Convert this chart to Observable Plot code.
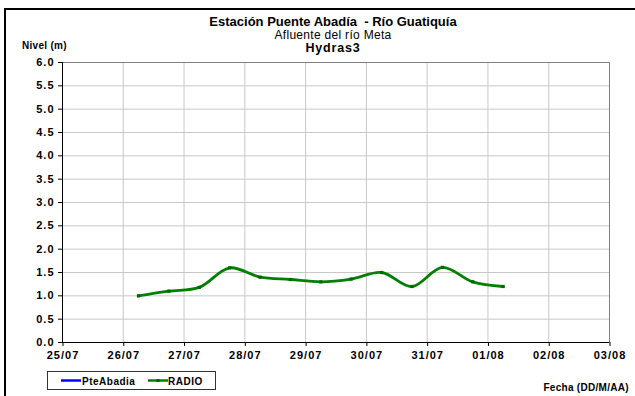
<!DOCTYPE html>
<html><head><meta charset="utf-8">
<script src="https://cdn.jsdelivr.net/npm/d3@7"></script>
<script src="https://cdn.jsdelivr.net/npm/@observablehq/plot@0.6"></script>
<style>
body{margin:0;background:#fff;font-family:"Liberation Sans",Arial,sans-serif;}
#wrap{position:relative;width:635px;height:396px;overflow:hidden;background:#fff}
#wrap svg{position:absolute;left:0;top:0}
.t{position:absolute;white-space:nowrap;color:#000;line-height:1}
.b{font-weight:bold}
</style></head><body>
<div id="wrap">
  <div class="t b" style="left:0;width:666px;text-align:center;top:15px;font-size:13px">Estación Puente Abadía&nbsp; - Río Guatiquía</div>
  <div class="t" style="left:0;width:666px;text-align:center;top:29px;font-size:12px;letter-spacing:0.3px">Afluente del río Meta</div>
  <div class="t b" style="left:0;width:666px;text-align:center;top:42px;font-size:12.5px;letter-spacing:0.8px">Hydras3</div>
  <div class="t b" style="left:22px;top:41px;font-size:10px;letter-spacing:0.3px">Nivel (m)</div>
  <div class="t b" style="right:6px;top:383px;font-size:10px;letter-spacing:0.3px">Fecha (DD/M/AA)</div>
  <div id="legend" style="position:absolute;left:47px;top:371px;width:167px;height:17px;border:1px solid #333;background:#fff"></div>
  <div style="position:absolute;left:4px;top:8px;width:631px;height:2px;background:#000"></div>
  <div style="position:absolute;left:4px;top:8px;width:2px;height:388px;background:#000"></div>
</div>
<script>
// Series: RADIO level readings (m), every 12 h
const times = [
  "2014-07-26T06:00Z","2014-07-26T18:00Z","2014-07-27T06:00Z","2014-07-27T18:00Z",
  "2014-07-28T06:00Z","2014-07-28T18:00Z","2014-07-29T06:00Z","2014-07-29T18:00Z",
  "2014-07-30T06:00Z","2014-07-30T18:00Z","2014-07-31T06:00Z","2014-07-31T18:00Z",
  "2014-08-01T06:00Z"
];
const radio = [1.0, 1.1, 1.18, 1.6, 1.4, 1.35, 1.3, 1.36, 1.5, 1.2, 1.61, 1.3, 1.2];
const pteAbadia = []; // no values shown
const tickDays = ["2014-07-25","2014-07-26","2014-07-27","2014-07-28","2014-07-29",
                  "2014-07-30","2014-07-31","2014-08-01","2014-08-02","2014-08-03"];
const yTicks = [0,0.5,1,1.5,2,2.5,3,3.5,4,4.5,5,5.5,6];
const seriesNames = ["PteAbadia","RADIO"];
const seriesColors = ["#0000ff","#008000"];

const data = times.map((t,i)=>({date:new Date(t), value:radio[i]}));
const days = tickDays.map(d=>new Date(d+"T00:00Z"));

const chart = Plot.plot({
  width:635, height:396,
  marginLeft:62, marginRight:26, marginTop:62, marginBottom:54,
  style:{fontFamily:"Liberation Sans, Arial, sans-serif", fontSize:"11px", fontWeight:"bold", letterSpacing:"1px", color:"#000", background:"transparent", overflow:"visible"},
  x:{type:"utc", domain:[days[0], days[days.length-1]]},
  y:{domain:[0,6]},
  marks:[
    Plot.gridX({ticks:days, stroke:"#c8c8c8", strokeOpacity:1}),
    Plot.gridY({ticks:yTicks, stroke:"#c8c8c8", strokeOpacity:1}),
    Plot.frame({stroke:"#808080"}),
    Plot.ruleX([days[0]], {stroke:"#000"}),
    Plot.ruleY([0], {stroke:"#000"}),
    Plot.axisX({ticks:days, tickFormat:d3.utcFormat("%d/%m"), tickSize:4, tickPadding:5, label:null, dx:0.5}),
    Plot.axisY({ticks:yTicks, tickFormat:d3.format(".1f"), tickSize:4, tickPadding:4, label:null}),
    Plot.line(data, {x:"date", y:"value", stroke:seriesColors[1], strokeWidth:2.8, curve:"catmull-rom"}),
    Plot.dot(data, {x:"date", y:"value", symbol:"square", r:1.8, fill:"#006400"})
  ]
});
document.getElementById("wrap").insertBefore(chart, document.getElementById("wrap").firstChild);

// legend
const lg = d3.select("#legend").append("svg").attr("width",167).attr("height",17).style("position","absolute").style("left","0").style("top","0");
const items = [{x:13, tx:34}, {x:100, tx:120}];
seriesNames.forEach((n,i)=>{
  const it = items[i];
  lg.append("line").attr("x1",it.x).attr("x2",it.x+20).attr("y1",8.5).attr("y2",8.5).attr("stroke",seriesColors[i]).attr("stroke-width",2.5);
  if(i===1) lg.append("rect").attr("x",it.x+8.5).attr("y",7).attr("width",3).attr("height",3).attr("fill","#006400");
  lg.append("text").attr("x",it.tx).attr("y",12.5).attr("font-family","Liberation Sans, Arial, sans-serif").attr("font-size",10).attr("font-weight","bold").attr("letter-spacing","0.5px").text(n);
});
</script>
</body></html>
